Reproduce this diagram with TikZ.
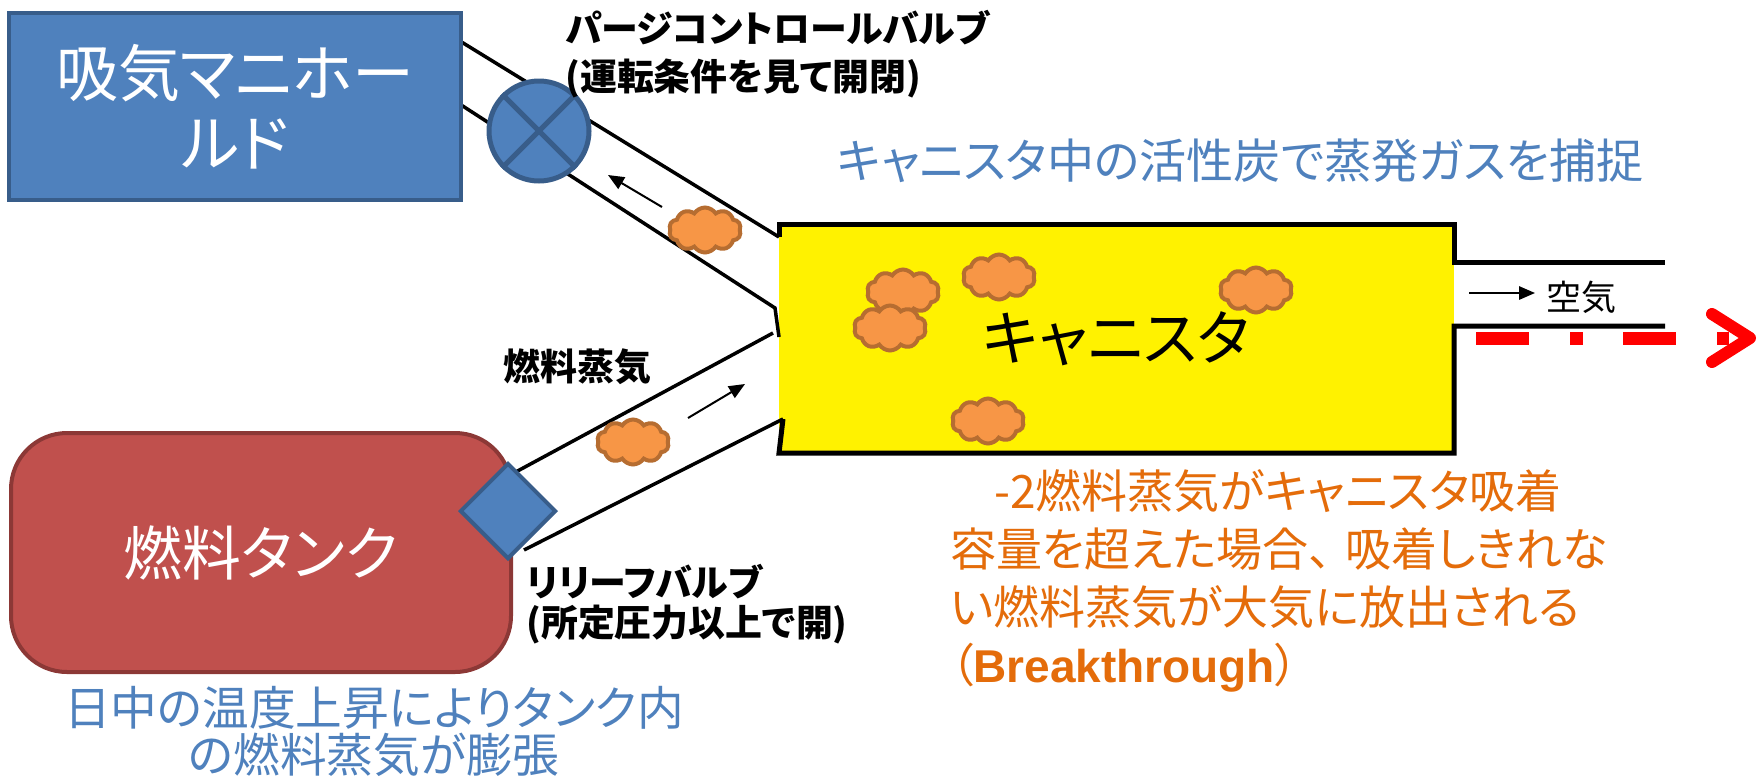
\documentclass[tikz,border=0pt]{standalone}
\usepackage{fontspec}
\setmainfont{Noto Sans CJK JP}[RawFeature=+palt]
\newfontfamily\latinfont{Liberation Sans}
\usetikzlibrary{shapes.geometric,shapes.symbols,arrows.meta}

\newlength{\du}
\setlength{\du}{0.45pt}

\definecolor{valveblue}{HTML}{4F81BD}
\definecolor{valveedge}{HTML}{385D8A}
\definecolor{tankred}{HTML}{C0504D}
\definecolor{tankedge}{HTML}{8C3836}
\definecolor{blobfill}{HTML}{F79646}
\definecolor{blobedge}{HTML}{B66D31}
\definecolor{noteblue}{HTML}{4F81BD}
\definecolor{noteorange}{HTML}{E46C0A}
\definecolor{ventred}{HTML}{FF0000}

\tikzset{
  pipe/.style={draw=black, line width=3.5\du},
  canwall/.style={draw=black, line width=5\du},
  blob/.style={cloud, cloud puffs=10, cloud puff arc=115, aspect=1.6,
    fill=blobfill, draw=blobedge, line width=4\du,
    minimum width=72\du, minimum height=45\du, inner sep=0pt},
  flowarrow/.style={draw=black, line width=2\du, -{Triangle[length=7.2pt, width=6pt]}},
  lbl/.style={font=\bfseries\fontsize{16.6}{21.6}\selectfont, inner sep=0pt},
  bigwhite/.style={text=white, inner sep=0pt},
}

\begin{document}
\begin{tikzpicture}
\pgftransformyscale{-1.000000}
\useasboundingbox (0\du,0\du) rectangle (1762\du,779\du);

% canister body
\node[fill=yellow, minimum width=675\du, minimum height=229\du, inner sep=0pt,
  font=\fontsize{27}{30}\selectfont] (canister) at (1116.5\du,338.5\du) {キャニスタ};

\coordinate (cnw) at (779\du,224\du);
\coordinate (cne) at (1454\du,224\du);
\coordinate (cse) at (1454\du,453\du);
\coordinate (csw) at (779\du,453\du);
\coordinate (venttopin) at (1454\du,262\du);
\coordinate (venttopout) at (1665\du,262\du);
\coordinate (ventbotin) at (1454\du,326\du);
\coordinate (ventbotout) at (1665\du,326\du);

% purge pipe
\coordinate (upa1) at (455\du,38\du);
\coordinate (upa2) at (779\du,237\du);
\coordinate (upb1) at (455\du,101\du);
\coordinate (upb2) at (775\du,308\du);
\coordinate (upb3) at (779\du,337\du);
% relief pipe
\coordinate (lowa1) at (512\du,474\du);
\coordinate (lowa2) at (773\du,333\du);
\coordinate (lowb1) at (524\du,550\du);
\coordinate (lowb2) at (783\du,419\du);

\draw[pipe] (upa1) -- (upa2);
\draw[pipe] (upb1) -- (upb2) -- (upb3);
\draw[pipe] (lowa1) -- (lowa2);
\draw[pipe] (lowb1) -- (lowb2);

\draw[canwall] (upa2) -- (cnw) -- (cne) -- (venttopin) -- (venttopout);
\draw[canwall] (lowb2) -- (csw) -- (cse) -- (ventbotin) -- (ventbotout);

% intake manifold and fuel tank
\node[rectangle, fill=valveblue, draw=valveedge, line width=4\du,
  minimum width=452\du, minimum height=187\du, bigwhite, align=center,
  font=\fontsize{27.9}{31.5}\selectfont] (manifold) at (235\du,106.5\du) {吸気マニホー\\ルド};
\node[rectangle, rounded corners=56\du, fill=tankred, draw=tankedge, line width=4\du,
  minimum width=500\du, minimum height=239\du, bigwhite,
  font=\fontsize{26.5}{30}\selectfont] (tank) at (261\du,552.5\du) {燃料タンク};

% valves
\node[circle, fill=valveblue, draw=valveedge, line width=5\du,
  minimum size=100\du, inner sep=0pt] (purge) at (539\du,131\du) {};
\draw[valveedge, line width=5\du] (purge.45) -- (purge.225) (purge.135) -- (purge.315);
\node[diamond, aspect=1, fill=valveblue, draw=valveedge, line width=4\du,
  minimum width=96\du, minimum height=96\du, inner sep=0pt] (relief) at (508\du,511\du) {};

% vapour clouds
\node[blob] (bloba) at (705\du,230\du) {};
\node[blob] (blobb) at (633\du,442\du) {};
\node[blob] (blobc) at (903\du,292\du) {};
\node[blob] (blobd) at (890\du,328\du) {};
\node[blob] (blobe) at (999\du,277\du) {};
\node[blob] (blobf) at (1256\du,290\du) {};
\node[blob] (blobg) at (988\du,421\du) {};

% flow directions
\coordinate (purgefrom) at (662\du,207\du);
\coordinate (purgeto) at (608\du,175\du);
\coordinate (reliefFrom) at (688\du,418\du);
\coordinate (reliefTo) at (745\du,384\du);
\coordinate (airfrom) at (1469\du,293\du);
\coordinate (airto) at (1535\du,293\du);
\draw[flowarrow] (purgefrom) -- (purgeto);
\draw[flowarrow] (reliefFrom) -- (reliefTo);
\draw[flowarrow] (airfrom) -- (airto);

% breakthrough to atmosphere
\coordinate (venta) at (1476\du,338\du);
\coordinate (ventb) at (1729\du,338\du);
\coordinate (chevup) at (1712\du,314\du);
\coordinate (chevtip) at (1750\du,338\du);
\coordinate (chevdn) at (1712\du,362\du);
\draw[ventred, line width=13\du, dash pattern=on 23.85pt off 18.45pt on 5.85pt off 18pt] (venta) -- (ventb);
\draw[ventred, line width=12\du, line cap=round, line join=round] (chevup) -- (chevtip) -- (chevdn);

% labels
\node[lbl, anchor=west, align=left] (purgelbl) at (565\du,54\du) {パージコントロールバルブ\\(運転条件を見て開閉)};
\node[lbl, anchor=west, align=left, font=\bfseries\fontsize{16.6}{18.2}\selectfont] (relieflbl) at (526\du,604\du) {リリーフバルブ\\(所定圧力以上で開)};
\node[lbl, anchor=west] (vaporlbl) at (503\du,367\du) {燃料蒸気};
\node[anchor=west, inner sep=0pt, font=\fontsize{15.75}{18}\selectfont] (airlbl) at (1546\du,297\du) {空気};

\node[anchor=west, inner sep=0pt, text=noteblue, font=\fontsize{21.2}{24}\selectfont]
  (trapnote) at (837\du,161\du) {キャニスタ中の活性炭で蒸発ガスを捕捉};
\node[inner sep=0pt, text=noteblue, align=center, font=\fontsize{21}{21.2}\selectfont]
  (heatnote) at (374\du,731\du) {日中の温度上昇によりタンク内\\の燃料蒸気が膨張};
\node[anchor=west, inner sep=0pt, text=noteorange, align=left, font=\fontsize{20.7}{26.1}\selectfont]
  (breaknote) at (950\du,581\du) {\hspace*{0.95em}-2燃料蒸気がキャニスタ吸着\\容量を超えた場合、\hspace{0.3em}吸着しきれな\\い燃料蒸気が大気に放出される\\（{\latinfont\bfseries Breakthrough}）};
\end{tikzpicture}
\end{document}
